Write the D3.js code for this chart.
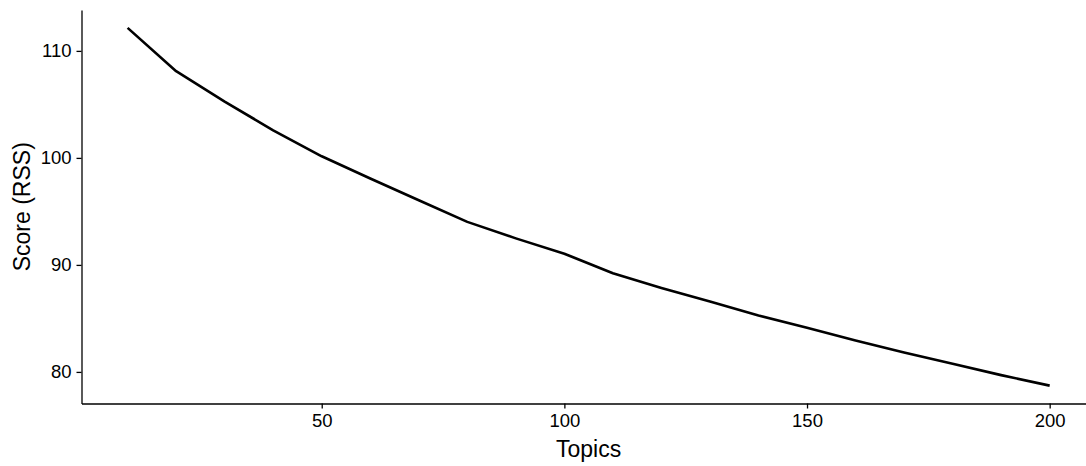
<!DOCTYPE html>
<html>
<head>
<meta charset="utf-8">
<script src="https://cdn.jsdelivr.net/npm/d3@7"></script>
<style>
  html, body { margin: 0; padding: 0; background: #fff; }
  svg { display: block; }
  text { font-family: "Liberation Sans", Arial, Helvetica, sans-serif; fill: #000; }
</style>
</head>
<body>
<svg id="chart" width="1086" height="466"></svg>
<script>
// Number of topics and the residual sum of squares for each model
const topics = [10, 20, 30, 40, 50, 60, 70, 80, 90, 100, 110, 120, 130, 140, 150, 160, 170, 180, 190, 200];
const rss = [112.15, 108.1, 105.26, 102.58, 100.15, 98.08, 96.04, 94.02, 92.48, 91.05,
             89.22, 87.85, 86.58, 85.28, 84.12, 82.93, 81.81, 80.76, 79.70, 78.72];
const xTicks = [50, 100, 150, 200];
const yTicks = [80, 90, 100, 110];
const xTitle = "Topics";
const yTitle = "Score (RSS)";

const svg = d3.select("#chart");
const panelLeft = 81.5, panelTop = 10, panelBottom = 403.5;

// ggplot-style 5% expansion around the data range
function expand(ext) {
  const pad = (ext[1] - ext[0]) * 0.05;
  return [ext[0] - pad, ext[1] + pad];
}
const xDom = expand(d3.extent(topics));
const yDom = expand(d3.extent(rss));
const pxPerTopic = 4.853;

const x = d3.scaleLinear().domain(xDom).range([panelLeft, panelLeft + (xDom[1] - xDom[0]) * pxPerTopic]);
const y = d3.scaleLinear().domain(yDom).range([panelBottom, panelTop]);

const data = topics.map((t, i) => ({ t, v: rss[i] }));

// Line
svg.append("path")
  .datum(data)
  .attr("fill", "none")
  .attr("stroke", "#000")
  .attr("stroke-width", 2.6)
  .attr("stroke-linejoin", "round")
  .attr("d", d3.line().x(d => x(d.t)).y(d => y(d.v)));

// X axis
const xAxis = svg.append("g")
  .attr("transform", `translate(0,${panelBottom})`)
  .call(d3.axisBottom(x).tickValues(xTicks).tickSize(5).tickPadding(5).tickSizeOuter(0));
// Y axis
const yAxis = svg.append("g")
  .attr("transform", `translate(${panelLeft},0)`)
  .call(d3.axisLeft(y).tickValues(yTicks).tickSize(5).tickPadding(5).tickSizeOuter(0));

[xAxis, yAxis].forEach(g => {
  g.select(".domain").attr("stroke", "#000").attr("stroke-width", 1.3);
  g.selectAll(".tick line").attr("stroke", "#000").attr("stroke-width", 1.3);
  g.selectAll(".tick text").style("font-size", "18.5px").attr("fill", "#000");
});

// Axis titles
svg.append("text")
  .attr("x", x(105)).attr("y", 457)
  .attr("text-anchor", "middle")
  .style("font-size", "23px")
  .text(xTitle);

svg.append("text")
  .attr("transform", `translate(30,${(panelTop + panelBottom) / 2}) rotate(-90)`)
  .attr("text-anchor", "middle")
  .style("font-size", "23px")
  .text(yTitle);
</script>
</body>
</html>
